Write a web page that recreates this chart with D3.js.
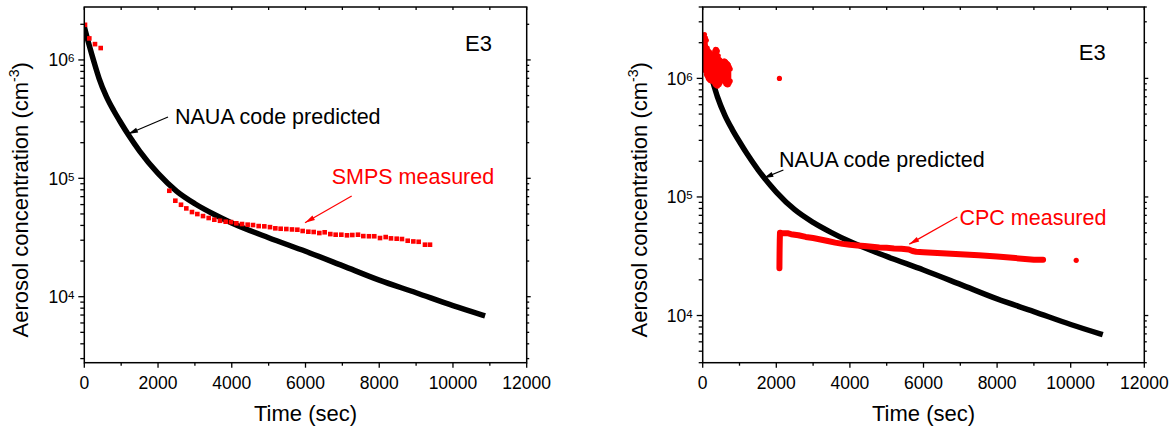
<!DOCTYPE html>
<html><head><meta charset="utf-8">
<script src="https://cdn.jsdelivr.net/npm/d3@7"></script>
<style>body{margin:0;background:#fff}svg{display:block}text{font-family:"Liberation Sans",Arial,sans-serif}</style>
</head><body>
<svg id="c" width="1174" height="429"></svg>
<script>
// ---------- data ----------
const xTicks = [0, 2000, 4000, 6000, 8000, 10000, 12000];
const yTickExps = [4, 5, 6];

// NAUA code predicted (same in both panels)
const nauaT = [0,100,200,300,400,600,800,1000,1200,1500,2000,2500,3000,3500,4000,5000,6000,7000,8000,9000,10000,10800];
const nauaV = [1.9e6,1.45e6,1.12e6,8.8e5,7.0e5,4.9e5,3.72e5,2.92e5,2.32e5,1.7e5,1.1e5,7.8e4,6.1e4,5.0e4,4.2e4,3.15e4,2.42e4,1.83e4,1.38e4,1.08e4,8.4e3,7.0e3];

// SMPS measured (left panel)
const smpsT = [19,136,290,445,2306,2469,2623,2767,2921,3066,3220,3374,3527,3681,3835,3979,4124,4278,4431,4576,4730,4883,5037,5182,5326,5480,5634,5779,5923,6077,6222,6375,6520,6673,6818,6972,7126,7270,7424,7568,7722,7866,8021,8175,8319,8473,8617,8772,8925,9070,9241,9377];
const smpsV = [1.98e6,1.52e6,1.36e6,1.26e6,7.85e4,6.47e4,5.98e4,5.57e4,5.19e4,4.99e4,4.80e4,4.62e4,4.47e4,4.38e4,4.30e4,4.27e4,4.17e4,4.11e4,4.06e4,4.03e4,3.95e4,3.93e4,3.87e4,3.78e4,3.75e4,3.73e4,3.70e4,3.68e4,3.59e4,3.54e4,3.52e4,3.45e4,3.50e4,3.38e4,3.34e4,3.34e4,3.30e4,3.32e4,3.34e4,3.25e4,3.24e4,3.24e4,3.13e4,3.19e4,3.11e4,3.09e4,3.07e4,2.97e4,2.93e4,2.91e4,2.75e4,2.75e4];

// CPC measured (right panel): early noisy cluster, upper and lower envelope
const cpcEarlyT  = [0,25,50,75,100,125,150,175,200,225,250,275,300,325,350,375,400,425,450,475,500,525,550,575,600,625,650,675,700,725,750];
const cpcEarlyHi = [2.2e6,2.3e6,2.35e6,2.2e6,2.1e6,1.8e6,1.72e6,1.68e6,1.65e6,1.62e6,1.58e6,1.55e6,1.6e6,1.7e6,1.76e6,1.75e6,1.7e6,1.55e6,1.45e6,1.42e6,1.38e6,1.36e6,1.38e6,1.4e6,1.4e6,1.38e6,1.35e6,1.33e6,1.3e6,1.25e6,1.2e6];
const cpcEarlyLo = [1.4e6,1.3e6,1.2e6,1.15e6,1.08e6,1.04e6,1.0e6,9.8e5,9.6e5,9.5e5,9.5e5,9.5e5,9.3e5,9.0e5,8.8e5,8.7e5,8.6e5,8.8e5,8.9e5,9.2e5,9.5e5,9.7e5,9.8e5,9.6e5,9.3e5,9.0e5,8.9e5,8.8e5,8.9e5,9.2e5,9.5e5];
// CPC later band
const cpcT = [2085,2087,2090,2094,2100,2150,2300,2400,2600,2800,3000,3200,3400,3600,3800,4000,4200,4400,4600,4800,5000,5200,5400,5600,5700,5800,6000,6500,7000,7500,8000,8500,9000,9250];
const cpcV = [2.5e4,3.0e4,3.6e4,4.3e4,5.0e4,4.95e4,4.95e4,4.85e4,4.75e4,4.6e4,4.5e4,4.38e4,4.25e4,4.12e4,4.02e4,3.95e4,3.9e4,3.85e4,3.8e4,3.75e4,3.72e4,3.68e4,3.66e4,3.6e4,3.5e4,3.45e4,3.42e4,3.35e4,3.28e4,3.22e4,3.15e4,3.05e4,2.96e4,2.95e4];
// CPC isolated points
const cpcOutT = [2085, 10150];
const cpcOutV = [1.0e6, 2.92e4];

// ---------- drawing ----------
const svg = d3.select("#c");
const RED = "#ff0000";
let clipN = 0;

function panel(cfg) {
  const x = d3.scaleLinear().domain([0, 12000]).range([cfg.x0, cfg.x1]);
  const y = d3.scaleLog().domain(cfg.yDom).range([cfg.y1, cfg.y0]);
  const g = svg.append("g");
  const id = "clip" + (clipN++);
  svg.append("defs").append("clipPath").attr("id", id).append("rect")
    .attr("x", cfg.x0).attr("y", cfg.y0).attr("width", cfg.x1 - cfg.x0).attr("height", cfg.y1 - cfg.y0);
  const data = g.append("g").attr("clip-path", `url(#${id})`);
  const ax = g.append("g").attr("stroke", "#000").attr("stroke-width", 1.3);
  // frame
  g.append("rect").attr("x", cfg.x0).attr("y", cfg.y0).attr("width", cfg.x1 - cfg.x0).attr("height", cfg.y1 - cfg.y0)
    .attr("fill", "none").attr("stroke", "#000").attr("stroke-width", 1.5);
  // x ticks
  d3.range(0, 12001, 1000).forEach(t => {
    const major = t % 2000 === 0;
    ax.append("line").attr("x1", x(t)).attr("x2", x(t)).attr("y1", cfg.y1).attr("y2", cfg.y1 + (major ? 5 : 3));
    ax.append("line").attr("x1", x(t)).attr("x2", x(t)).attr("y1", cfg.y0).attr("y2", cfg.y0 + 3);
  });
  xTicks.forEach(t => {
    g.append("text").attr("x", x(t)).attr("y", cfg.y1 + 26).attr("text-anchor", "middle")
      .attr("font-size", 17.5).text(t);
  });
  // y ticks
  const [lo, hi] = cfg.yDom;
  for (let e = Math.floor(Math.log10(lo)); e <= Math.ceil(Math.log10(hi)); e++) {
    for (let m = 1; m <= 9; m++) {
      const v = m * Math.pow(10, e);
      if (v < lo || v > hi) continue;
      const major = m === 1;
      ax.append("line").attr("x1", cfg.x0 - (major ? 6 : 4)).attr("x2", cfg.x0).attr("y1", y(v)).attr("y2", y(v));
      ax.append("line").attr("x1", cfg.x1).attr("x2", cfg.x1 + (major ? 4 : 2.5)).attr("y1", y(v)).attr("y2", y(v));
    }
  }
  yTickExps.forEach(e => {
    const t = g.append("text").attr("x", cfg.x0 - 10).attr("y", y(Math.pow(10, e)) + 6.5)
      .attr("text-anchor", "end").attr("font-size", 17.5);
    t.append("tspan").text("10");
    t.append("tspan").attr("font-size", 11.5).attr("dy", -4).text(e);
  });
  // axis titles
  g.append("text").attr("x", (cfg.x0 + cfg.x1) / 2).attr("y", 421).attr("text-anchor", "middle")
    .attr("font-size", 22).text("Time (sec)");
  const yt = g.append("text").attr("transform", `translate(${cfg.x0 - 56},${(cfg.y0 + cfg.y1) / 2 + 15}) rotate(-90)`)
    .attr("text-anchor", "middle").attr("font-size", 22);
  yt.append("tspan").text("Aerosol concentration (cm");
  yt.append("tspan").attr("font-size", 14).attr("dy", -9).text("-3");
  yt.append("tspan").attr("dy", 9).text(")");
  // E3
  g.append("text").attr("x", x(cfg.e3[0])).attr("y", y(cfg.e3[1])).attr("text-anchor", "end")
    .attr("font-size", 22).text("E3");
  return {g, data, x, y};
}

function arrow(g, x1, y1, x2, y2, color) {
  g.append("line").attr("x1", x1).attr("y1", y1).attr("x2", x2).attr("y2", y2)
    .attr("stroke", color).attr("stroke-width", 1.2);
  const a = Math.atan2(y2 - y1, x2 - x1), L = 10, W = 2.6;
  const bx = x2 - L * Math.cos(a), by = y2 - L * Math.sin(a);
  const px = -Math.sin(a) * W, py = Math.cos(a) * W;
  g.append("path").attr("d", `M${x2},${y2}L${bx + px},${by + py}L${bx - px},${by - py}Z`).attr("fill", color);
}

function naua(p) {
  const pts = nauaT.map((t, i) => [p.x(t), p.y(nauaV[i])]);
  p.data.append("path").attr("d", d3.line().curve(d3.curveMonotoneX)(pts))
    .attr("fill", "none").attr("stroke", "#000").attr("stroke-width", 5.5).attr("stroke-linecap", "square");
}

// Left panel
const L = panel({x0: 84.3, x1: 526.7, y0: 7, y1: 362.7, yDom: [2.77e3, 2.8e6], e3: [11060, 1.2e6]});
naua(L);
L.data.selectAll(".smps").data(smpsT).enter().append("rect")
  .attr("x", (t) => L.x(t) - 2.3).attr("y", (t, i) => L.y(smpsV[i]) - 2.3)
  .attr("width", 4.6).attr("height", 4.6).attr("fill", RED);
L.g.append("text").attr("x", L.x(2460)).attr("y", L.y(2.9e5)).attr("font-size", 21.5).text("NAUA code predicted");
arrow(L.g, L.x(2270), L.y(3.3e5), L.x(1185), L.y(2.37e5), "#000");
L.g.append("text").attr("x", L.x(6710)).attr("y", L.y(8.96e4)).attr("font-size", 21.5).attr("fill", RED).text("SMPS measured");
arrow(L.g, L.x(7253), L.y(7.08e4), L.x(5986), L.y(4.22e4), RED);

// Right panel
const R = panel({x0: 702.7, x1: 1144.3, y0: 7, y1: 362.7, yDom: [4e3, 4e6], e3: [10950, 1.42e6]});
naua(R);
R.data.append("path").attr("d", d3.area().x((t) => R.x(t)).y0((t, i) => R.y(cpcEarlyLo[i])).y1((t, i) => R.y(cpcEarlyHi[i])).curve(d3.curveMonotoneX)(cpcEarlyT))
  .attr("fill", RED).attr("stroke", RED).attr("stroke-width", 2);
cpcEarlyT.forEach((t, i) => {
  R.data.append("circle").attr("cx", R.x(t)).attr("cy", R.y(cpcEarlyHi[i])).attr("r", 2.5).attr("fill", RED);
  R.data.append("circle").attr("cx", R.x(t)).attr("cy", R.y(cpcEarlyLo[i])).attr("r", 2.5).attr("fill", RED);
});
R.data.append("path").attr("d", d3.line()(cpcT.map((t, i) => [R.x(t), R.y(cpcV[i])])))
  .attr("fill", "none").attr("stroke", RED).attr("stroke-width", 6).attr("stroke-linecap", "round").attr("stroke-linejoin", "round");
R.data.selectAll(".out").data(cpcOutT).enter().append("circle")
  .attr("cx", (t) => R.x(t)).attr("cy", (t, i) => R.y(cpcOutV[i])).attr("r", 2.6).attr("fill", RED);
R.g.append("text").attr("x", R.x(2076)).attr("y", R.y(1.79e5)).attr("font-size", 21.5).text("NAUA code predicted");
arrow(R.g, R.x(2193), R.y(1.69e5), R.x(1649), R.y(1.44e5), "#000");
R.g.append("text").attr("x", R.x(6977)).attr("y", R.y(5.79e4)).attr("font-size", 21.5).attr("fill", RED).text("CPC measured");
arrow(R.g, R.x(6920), R.y(6.78e4), R.x(5614), R.y(4.0e4), RED);
</script>
</body></html>
